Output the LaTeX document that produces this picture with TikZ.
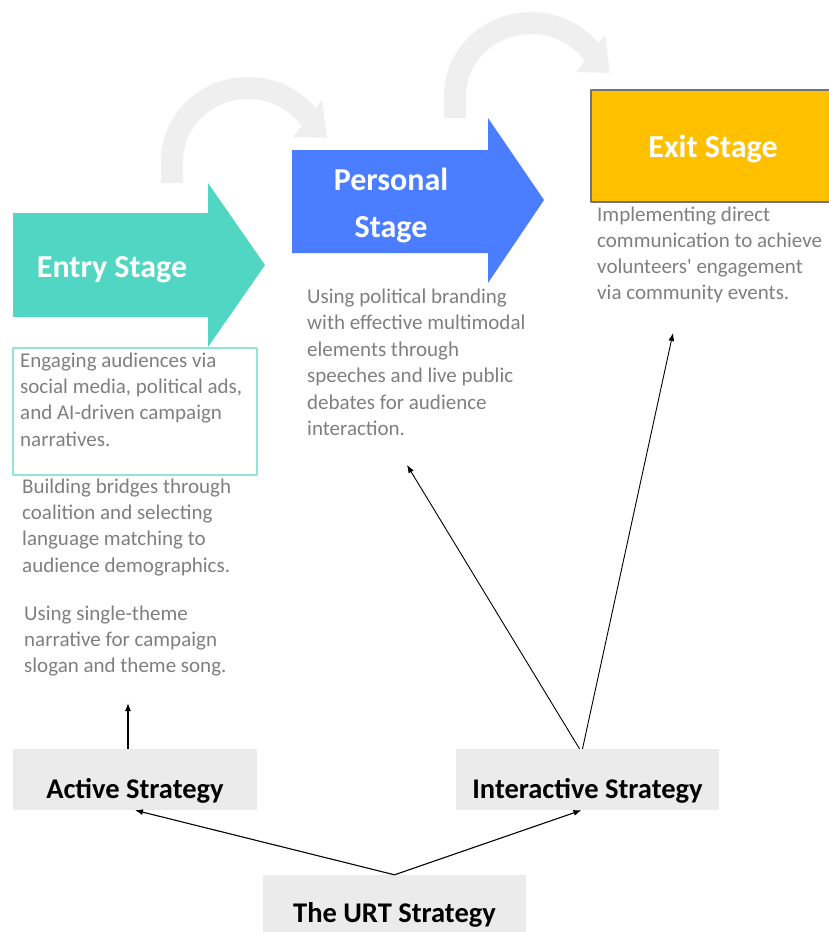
\documentclass[tikz,border=0pt]{standalone}
\usepackage{fontspec}
\setmainfont{Carlito}
\usetikzlibrary{arrows.meta,calc,positioning}
\definecolor{entryteal}{HTML}{50D6C2}
\definecolor{personalblue}{HTML}{4A7DFF}
\definecolor{exitgold}{HTML}{FFC000}
\definecolor{descgray}{HTML}{7F7F7F}
\definecolor{boxline}{HTML}{8EE5D8}
\definecolor{stratgray}{HTML}{EBEBEB}
\definecolor{curvegray}{HTML}{EFEFEF}

\begin{document}
\begin{tikzpicture}[x=1pt,y=-1pt,line join=round,
  desc/.style={font=\fontsize{21}{26.3}\selectfont,text=descgray,align=left,inner sep=0pt,anchor=north west},
  title/.style={font=\bfseries\fontsize{32}{47}\selectfont,text=white,inner sep=0pt,align=center},
  strat/.style={fill=stratgray,font=\bfseries\fontsize{28.5}{34}\selectfont,inner sep=0pt,anchor=base},
  arr/.style={-{Latex[length=8pt,width=6pt]},line width=1.1pt}]
\useasboundingbox (0,0) rectangle (829,932);
% curved gray arrows
\foreach \dx/\dy in {0/0,283/-65}{
  \begin{scope}[shift={(\dx,\dy)}]
  \draw[line width=22pt,curvegray] (172,183) -- (172,161) arc[start angle=180,end angle=326,x radius=76,y radius=73];
  \fill[curvegray] (322,100) -- (293,137) -- (327,138) -- cycle;
  \end{scope}}
% stages
\fill[entryteal] (13,213) -- (208,213) -- (208,183) -- (265,265) -- (208,347) -- (208,317) -- (13,317) -- cycle;
\fill[personalblue] (292,150) -- (488,150) -- (488,118) -- (544,200) -- (488,283) -- (488,253) -- (292,253) -- cycle;
\node[title,anchor=base] (entrystage) at (112,277) {Entry Stage};
\node[title,anchor=north] (personalstage) at (391,157) {\strut Personal\\Stage};
\node[title,anchor=base,fill=exitgold,draw=black!55,line width=1.5pt,minimum width=244,text height=67,text depth=45] (exitstage) at (713,157) {Exit Stage};
% descriptions
\draw[boxline,line width=2pt] (13,348) rectangle (257,475);
\node[desc] (entrytext) at (20,348.5) {\strut Engaging audiences via\\social media, political ads,\\and AI-driven campaign\\narratives.};
\node[desc] (bridgetext) at (22,474.5) {\strut Building bridges through\\coalition and selecting\\language matching to\\audience demographics.};
\node[desc] (themetext) at (24,601.5) {\strut Using single-theme\\narrative for campaign\\slogan and theme song.};
\node[desc,font=\fontsize{21}{26.5}\selectfont] (personaltext) at (307,284.5) {\strut Using political branding\\with effective multimodal\\elements through\\speeches and live public\\debates for audience\\interaction.};
\node[desc,font=\fontsize{21}{26}\selectfont] (exittext) at (597,203.5) {\strut Implementing direct\\communication to achieve\\volunteers\textquotesingle{} engagement\\via community events.};
% strategies
\node[strat,minimum width=244,text height=49,text depth=12] (active) at (135,798) {Active Strategy};
\node[strat,minimum width=263,text height=49,text depth=12] (interactive) at (587.5,798) {Interactive Strategy};
\node[strat,minimum width=263,text height=47,text depth=20] (urt) at (394.5,922) {The URT Strategy};
% connectors
\coordinate (activetip) at (128,703);
\coordinate (personaltip) at (407,465);
\coordinate (exittip) at (673,333);
\draw[arr] (active.north -| activetip) -- (activetip);
\draw[arr] (urt.north) -- (active.south);
\draw[arr] (urt.north) -- ([xshift=-6pt]interactive.south);
\draw[arr,line width=0.9pt] ([xshift=-8pt]interactive.north) -- (personaltip);
\draw[arr,line width=0.9pt] ([xshift=-5pt]interactive.north) -- (exittip);
\end{tikzpicture}
\end{document}
